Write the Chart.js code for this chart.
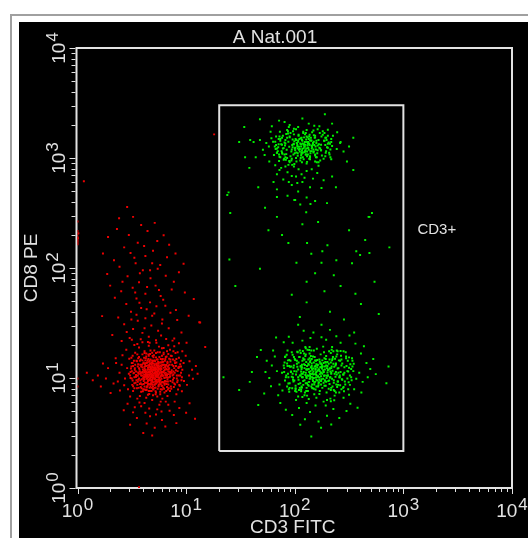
<!DOCTYPE html>
<html>
<head>
<meta charset="utf-8">
<title>A Nat.001</title>
<script src="https://cdn.jsdelivr.net/npm/chart.js@4.4.1/dist/chart.umd.min.js"></script>
<style>
  html, body { margin: 0; padding: 0; background: #fff; width: 528px; height: 538px; overflow: hidden; }
  #frame { position: absolute; left: 10px; top: 14px; width: 540px; height: 540px; border-left: 2px solid #a0a0a0; border-top: 2px solid #a0a0a0; }
  #panel { position: absolute; left: 19px; top: 22px; right: 0; bottom: 0; background: #000; }
  #plot { position: absolute; left: 0; top: 0; }
</style>
</head>
<body>
<div id="frame"></div>
<div id="panel"></div>
<canvas id="plot" width="528" height="538"></canvas>
<script>
// 4-decade log amplifier, 1024 channels (256 channels per decade)
const decadeChannels = [0, 256, 512, 768, 1024];
const decadeExponents = ["0", "1", "2", "3", "4"];
const minorChannels = [77, 122, 154, 179, 199, 216, 231, 244];

const plotTitle = "A Nat.001";
const xTitle = "CD3 FITC";
const yTitle = "CD8 PE";
const gateName = "CD3+";
const gateX = [334, 768];
const gateY = [86, 891];

// CD3- events (red), [FITC channel, PE channel]
const negCore = [
  [182,268],[175,259],[190,272],[168,281],[201,262],[176,247],[159,270],[187,289],[195,251],[171,264],
  [184,277],[163,255],[207,281],[178,236],[152,262],[193,266],[169,294],[213,257],[186,243],[174,272],
  [160,284],[198,276],[181,253],[147,271],[205,240],[166,241],[189,299],[222,268],[177,282],[156,249],
  [200,293],[172,258],[191,238],[143,288],[215,276],[183,262],[164,268],[208,305],[179,229],[196,259],
  [154,276],[187,271],[170,233],[226,284],[161,302],[185,250],[198,283],[149,244],[176,291],[211,265],
  [167,276],[194,245],[138,263],[180,309],[219,249],[173,251],[202,270],[158,236],[188,280],[229,296],
  [145,255],[184,225],[171,283],[209,248],[162,291],[196,300],[135,279],[178,257],[217,287],[190,262],
  [153,297],[205,257],[168,226],[183,295],[141,240],[224,262],[175,274],[199,229],[157,264],[212,294],
  [186,286],[165,245],[232,274],[150,283],[193,254],[171,312],[204,287],[139,251],[181,241],[220,236],
  [160,259],[197,292],[176,265],[128,272],[214,271],[189,231],[155,230],[207,263],[172,299],[236,250],
  [148,266],[185,304],[201,247],[166,285],[130,291],[192,277],[178,216],[225,299],[159,273],[210,242],
  [143,302],[187,259],[169,262],[203,315],[151,253],[240,282],[182,288],[163,228],[197,268],[134,244],
  [218,260],[175,243],[156,292],[191,285],[146,276],[228,243],[170,269],[206,296],[184,234],[121,266],
  [162,306],[199,238],[177,295],[213,282],[152,241],[189,316],[137,259],[222,274],[168,252],[195,224],
  [181,276],[158,282],[234,262],[174,226],[204,273],[144,233],[186,263],[127,283],[216,301],[165,297],
  [193,250],[150,268],[209,286],[179,304],[140,295],[227,256],[171,241],[199,308],[157,258],[244,268],
  [183,281],[133,268],[202,234],[167,311],[219,266],[154,225],[190,293],[175,233],[230,291],[148,287],
  [196,279],[161,263],[212,253],[125,256],[185,222],[171,289],[238,279],[143,269],[206,243],[180,296],
  [164,236],[220,308],[149,299],[192,241],[131,237],[209,277],[173,277],[246,258],[158,314],[187,248],
  [117,279],[201,287],[176,252],[226,271],[142,247],[194,316],[166,259],[215,232],[155,290],[183,267],
  [112,255],[250,291],[136,315],[263,262],[104,287],[218,322],[147,214],[241,238],[122,301],[203,326],
  [99,268],[255,308],[131,226],[236,316],[168,331],[270,275],[110,239],[192,329],[145,327],[251,249],
  [119,230],[228,330],[162,210],[264,295],[95,248],[212,214],[134,333],[246,225],[176,205],[106,309],
  [279,284],[153,339],[200,208],[124,213],[258,240],[186,338],[91,291],[233,218],[141,208],[272,254],
  [115,322],[224,343],[166,340],[100,227],[247,318],[196,201],[128,345],[283,266],[158,198],[239,337],
  [150,190],[188,183],[131,176],[214,194],[171,167],[240,186],[118,196],[199,158],[163,150],[227,170],
  [140,163],[182,140],[256,175],[109,181],[207,143],[155,128],[233,151],[176,122],[124,147],[264,197],
  [193,194],[169,185],[146,199],[217,180],[185,171],[208,201],[160,175],[135,188],[229,201],[198,178],
  [48,262],[72,279],[36,251],[85,243],[60,290],[22,268],[78,221],[90,302],[55,236],[67,255]
];
const negDense = [
  [178,262],[185,270],[172,268],[190,258],[181,279],[167,257],[195,273],[176,251],[188,284],[170,276],
  [183,255],[199,265],[164,263],[179,290],[192,248],[173,244],[186,262],[160,275],[203,280],[177,270],
  [169,286],[194,292],[182,240],[157,260],[208,268],[175,279],[187,276],[166,249],[198,254],[180,258],
  [171,255],[190,281],[162,284],[184,266],[205,256],[174,292],[193,269],[159,245],[179,246],[200,287],
  [168,270],[186,252],[176,283],[211,276],[163,271],[182,297],[196,242],[154,268],[189,266],[172,236],
  [180,274],[165,292],[201,261],[175,261],[191,289],[158,253],[184,280],[206,249],[170,261],[187,299],
  [161,266],[197,277],[178,231],[193,257],[166,280],[214,285],[183,248],[153,281],[174,266],[190,274],
  [168,242],[202,294],[181,285],[159,289],[195,250],[177,256],[211,262],[164,254],[186,290],[172,281],
  [199,270],[156,273],[183,273],[170,296],[207,283],[176,240],[191,263],[162,259],[188,246],[179,280],
  [150,262],[196,285],[173,250],[185,259],[217,270],[167,265],[182,233],[194,278],[160,297],[178,275],
  [203,245],[171,272],[187,268],[155,254],[199,299],[175,287],[190,252],[165,275],[209,258],[180,266],
  [169,251],[193,283],[184,243],[158,278],[176,297],[212,291],[163,245],[189,271],[174,258],[197,262]
];
const negMid = [
  [130,250],[238,281],[145,305],[221,231],[126,278],[242,262],[150,224],[214,312],[133,296],[230,241],
  [158,318],[205,222],[124,262],[244,296],[140,232],[226,318],[166,217],[199,325],[136,287],[234,255],
  [153,311],[218,226],[129,240],[247,275],[147,296],[210,306],[161,228],[233,300],[138,271],[225,252],
  [172,320],[195,218],[127,303],[240,240],[156,242],[219,294],[143,252],[211,235],[168,308],[229,268],
  [134,258],[203,311],[152,287],[237,229],[163,234],[216,279],[131,284],[245,251],[149,235],[207,300],
  [176,315],[188,213],[141,311],[223,287],[158,229],[231,314],[137,245],[213,248],[167,300],[242,288],
  [128,291],[198,238],[155,257],[222,307],[145,279],[209,226],[170,226],[236,272],[132,267],[217,258],
  [181,320],[193,305],[139,296],[227,235],[162,313],[204,231],[148,250],[239,303],[134,232],[220,270],
  [157,303],[211,318],[144,266],[232,284],[169,219],[201,300],[125,270],[226,264],[151,232],[214,241],
  [185,314],[196,230],[142,283],[219,299],[165,237],[235,246],[130,308],[208,285],[174,226],[244,283],
  [138,259],[205,267],[160,289],[228,279],[147,242],[215,265],[177,307],[191,236],[135,275],[224,246],
  [153,270],[206,275],[164,292],[238,262],[142,261],[213,229],[184,218],[199,246],[128,255],[233,292]
];
const negPlume = [
  [117,654],[72,584],[131,631],[150,612],[93,603],[165,598],[188,575],[110,560],[142,571],[203,588],
  [125,547],[160,540],[86,530],[178,552],[211,537],[137,523],[99,515],[154,507],[195,519],[231,546],
  [70,498],[118,493],[172,488],[145,479],[208,494],[239,502],[130,466],[184,471],[103,458],[160,452],
  [222,462],[88,443],[139,441],[196,447],[253,455],[115,428],[171,432],[150,419],[207,424],[126,410],
  [181,406],[232,414],[96,397],[160,395],[142,389],[200,392],[262,401],[110,381],[174,378],[215,372],
  [131,370],[190,366],[153,361],[245,362],[82,356],[168,352],[123,349],[209,347],[139,403],[186,423],
  [164,468],[202,438],[106,480],[147,500],[189,510],[227,480],[134,536],[176,523],[157,563],[121,589],
  [182,617],[98,628],[216,566],[60,546],[250,522],[77,471],[274,440],[58,400],[289,385],[235,391],
  [149,346],[197,355],[116,363],[228,348],[170,338],[104,342],[257,338],[141,335],[185,344],[214,332],
  [158,372],[127,392],[199,383],[176,401],[146,431],[219,408],[163,416],[136,455],[192,461],[171,507]
];
const negEdge = [
  [0,620],[0,598],[0,590],[0,584],[0,579],[0,575],[0,571],[0,567],[2,593],[1,581],
  [0,236],[0,255],[15,714],[322,823],[145,2],[301,328],[277,161],[287,386]
];

// CD3+ events (green)
const posCd8Low = [
  [562,268],[548,255],[575,281],[539,276],[590,262],[553,241],[528,266],[571,294],[584,249],[545,287],
  [566,259],[521,252],[598,279],[557,231],[535,299],[580,270],[511,272],[604,245],[559,283],[542,262],
  [589,293],[526,284],[569,246],[615,268],[550,307],[532,240],[595,257],[517,296],[577,233],[561,275],
  [505,259],[609,290],[543,226],[582,302],[529,258],[623,253],[556,264],[514,238],[597,314],[570,257],
  [538,311],[601,236],[552,290],[587,222],[520,276],[629,281],[565,298],[499,284],[574,268],[546,247],
  [611,264],[533,270],[581,316],[509,248],[594,242],[557,320],[540,233],[637,296],[523,305],[568,239],
  [586,285],[515,264],[602,305],[549,272],[496,297],[619,239],[535,251],[573,311],[558,218],[590,274],
  [503,271],[627,264],[544,299],[579,254],[527,229],[612,311],[563,252],[491,258],[598,268],[552,279],
  [534,288],[645,277],[571,226],[518,317],[605,282],[541,215],[584,293],[510,285],[630,248],[555,306],
  [592,231],[525,244],[576,283],[487,279],[616,297],[548,262],[564,324],[537,307],[600,254],[513,226],
  [642,262],[558,245],[529,281],[581,261],[497,243],[620,319],[546,321],[594,299],[568,276],[507,310],
  [651,289],[539,259],[585,238],[521,292],[609,270],[553,233],[482,268],[633,306],[566,287],[545,238],
  [599,322],[516,271],[574,249],[626,233],[531,319],[588,261],[560,297],[494,290],[614,248],[542,276],
  [579,329],[508,257],[638,271],[554,253],[524,233],[603,289],[570,219],[489,305],[595,278],[547,313],
  [617,258],[530,296],[563,236],[657,254],[512,300],[586,307],[541,244],[606,226],[552,265],[574,290],
  [500,233],[622,285],[537,328],[591,249],[518,282],[647,302],[561,229],[583,276],[526,262],[610,241],
  [470,272],[664,268],[495,320],[681,291],[476,241],[652,230],[507,338],[620,338],[458,285],[668,313],
  [483,227],[640,217],[530,343],[586,345],[465,306],[672,247],[549,349],[610,353],[452,256],[690,277],
  [515,205],[597,202],[473,216],[655,336],[540,198],[575,351],[498,352],[627,210],[446,296],[684,258],
  [561,192],[522,186],[603,184],[478,198],[643,196],[548,177],[588,168],[506,170],[634,179],[568,155],
  [536,160],[617,163],[491,182],[574,140],[551,120],[598,148],[525,147],[660,187],[585,192],[545,207],
  [605,204],[563,210],[520,213],[580,201],[628,225],[499,224],[556,362],[595,368],[533,366],[641,355],
  [486,339],[675,330],[461,320],[697,300],[443,270],[703,265],[456,237],[669,222],[468,350],[652,362],
  [344,258],[381,228],[426,193],[411,270],[423,305],[406,247],[440,220],[432,321],[733,283],[728,244]
];
const posCd8LowDense = [
  [560,265],[571,272],[549,259],[583,262],[556,278],[538,268],[575,253],[563,288],[591,275],[545,247],
  [567,260],[552,284],[580,291],[541,276],[596,258],[558,241],[572,281],[531,258],[586,247],[563,270],
  [548,293],[577,266],[599,283],[536,286],[565,250],[554,267],[589,269],[527,271],[570,299],[582,238],
  [544,261],[561,278],[597,292],[551,236],[576,287],[532,249],[568,244],[588,279],[547,302],[606,266],
  [557,256],[579,274],[539,293],[593,250],[562,296],[524,262],[574,260],[553,275],[585,300],[543,240],
  [601,273],[566,286],[535,279],[580,245],[555,249],[571,265],[529,287],[592,289],[559,305],[546,270],
  [613,278],[562,257],[577,297],[540,256],[587,256],[550,281],[604,251],[569,276],[533,299],[583,283],
  [554,232],[598,266],[544,289],[574,241],[528,277],[565,281],[590,262],[557,292],[547,254],[580,270],
  [609,288],[537,263],[570,252],[560,247],[585,292],[548,266],[594,278],[552,300],[576,278],[541,284],
  [618,262],[563,263],[531,266],[583,251],[572,290],[556,271],[600,297],[545,277],[567,236],[589,284],
  [538,244],[578,283],[553,258],[596,271],[561,284],[526,282],[573,269],[549,297],[608,259],[566,273]
];
const posCd8LowMid = [
  [492,262],[640,280],[510,305],[622,230],[486,285],[645,258],[516,224],[613,318],[499,298],[631,241],
  [524,320],[606,215],[489,250],[648,296],[506,232],[627,318],[530,212],[600,328],[501,282],[636,255],
  [519,316],[617,222],[494,236],[650,272],[513,298],[610,306],[527,225],[633,302],[503,270],[624,252],
  [538,325],[596,208],[490,306],[642,240],[521,242],[619,296],[508,252],[612,235],[534,313],[629,268],
  [497,258],[603,318],[517,289],[638,230],[528,236],[615,279],[495,284],[646,251],[514,230],[607,301],
  [542,322],[588,205],[505,316],[624,290],[522,228],[632,316],[500,244],[613,248],[532,302],[643,288],
  [488,292],[598,233],[520,258],[621,308],[509,280],[609,222],[536,222],[636,272],[496,266],[618,258],
  [547,328],[593,318],[502,296],[627,235],[526,314],[604,228],[511,250],[640,304],[498,230],[620,270],
  [523,305],[611,320],[507,266],[634,284],[535,216],[601,300],[487,270],[626,264],[514,232],[614,240],
  [551,320],[597,228],[504,283],[622,299],[529,234],[639,246],[493,310],[608,285],[539,226],[648,283]
];
const posCd8High = [
  [518,795],[505,788],[531,802],[497,806],[543,791],[512,779],[489,797],[526,814],[538,776],[509,801],
  [522,787],[481,784],[551,809],[515,768],[494,815],[535,795],[474,800],[557,783],[520,809],[502,772],
  [546,818],[486,791],[528,780],[566,797],[510,823],[492,777],[549,784],[478,812],[533,765],[517,803],
  [467,789],[560,816],[499,761],[538,826],[488,804],[574,786],[513,792],[476,771],[553,828],[527,774],
  [496,825],[562,770],[507,811],[541,759],[482,799],[581,808],[521,822],[461,806],[530,789],[504,783],
  [569,800],[491,764],[540,833],[470,780],[548,772],[515,835],[499,794],[588,793],[484,820],[525,762],
  [544,805],[473,793],[557,821],[506,798],[457,814],[576,774],[493,787],[532,829],[511,754],[552,796],
  [463,775],[584,815],[500,818],[536,783],[487,766],[571,826],[519,779],[451,795],[556,788],[508,830],
  [490,810],[595,801],[529,758],[477,829],[563,808],[497,752],[542,816],[468,818],[585,780],[514,812],
  [548,765],[483,778],[534,800],[445,803],[572,790],[505,766],[520,840],[494,833],[560,776],[475,761],
  [437,787],[602,820],[455,829],[611,789],[466,751],[590,834],[500,845],[545,848],[430,810],[620,805],
  [480,745],[568,750],[521,742],[452,760],[598,765],[441,775],[627,783],[488,852],[558,843],[510,748],
  [495,735],[540,738],[470,730],[565,733],[515,725],[485,718],[530,712],[555,720],[505,705],[548,700],
  [462,712],[580,716],[520,690],[575,698],[495,680],[540,676],[470,695],[600,725],[525,660],[560,668],
  [420,770],[415,805],[640,795],[635,760],[458,842],[600,848],[530,860],[475,855],[405,745],[650,815],
  [505,726],[528,730],[490,748],[552,742],[518,710],[540,755],[476,740],[564,758],[498,712],[535,722],
  [353,682],[381,805],[407,810],[360,640],[442,652],[470,677],[511,670],[549,661],[588,663],[612,828],
  [619,803],[688,631],[470,631],[393,840],[430,858],[583,870],[426,700],[609,700],[395,770],[650,740]
];
const posCd8HighDense = [
  [535,795],[546,801],[524,789],[552,790],[530,808],[541,783],[518,798],[557,806],[528,777],[545,812],
  [537,786],[520,806],[561,795],[533,799],[549,779],[512,790],[540,818],[527,795],[566,786],[523,812],
  [554,799],[531,770],[544,792],[516,781],[559,815],[536,805],[548,770],[510,800],[538,776],[563,803],
  [525,802],[551,808],[542,797],[519,773],[534,816],[570,792],[529,785],[547,822],[515,810],[556,781],
  [539,790],[522,794],[560,774],[532,826],[545,787],[507,793],[553,793],[526,768],[541,805],[568,810],
  [535,782],[517,803],[550,815],[529,810],[562,788],[543,776],[513,786],[547,798],[521,820],[539,811],
  [558,798],[533,791],[546,766],[511,807],[565,779],[527,800],[552,784],[536,823],[519,790],[541,772],
  [555,803],[531,780],[548,809],[574,799],[524,783],[543,801],[509,776],[560,820],[537,799],[528,815]
];
const posCd8HighMid = [
  [470,790],[590,801],[482,815],[584,772],[466,806],[596,788],[490,770],[578,822],[475,776],[587,810],
  [496,830],[572,762],[468,798],[600,796],[486,764],[582,826],[500,758],[566,835],[478,808],[593,780],
  [492,824],[580,766],[472,784],[598,812],[488,776],[575,818],[504,762],[590,792],[480,800],[586,784],
  [510,836],[568,758],[476,818],[592,804],[494,768],[578,830],[484,790],[596,770],[502,826],[584,798],
  [465,795],[574,786],[498,840],[560,760],[482,780],[590,820],[506,752],[570,842],[474,812],[582,808],
  [516,760],[556,832],[490,802],[594,776],[478,770],[586,815],[500,816],[564,770],[470,780],[598,805]
];
const posBetween = [
  [513,670],[539,642],[567,619],[686,631],[530,614],[482,589],[541,570],[589,565],
  [678,577],[657,551],[577,551],[551,545],[516,524],[575,524],[688,547],[666,542],[540,480],[582,458],
  [655,452],[668,428],[628,392],[524,398],[647,523],[694,640],[356,688],[358,532],[372,470],[430,510],
  [604,495],[540,432],[620,470],[595,410],[505,450],[700,480],[710,405],[575,380],[640,600],[610,530],
  [497,570],[560,500],[450,600],[735,560],[520,380]
];

const ink = "#e2e2e2";
const font = "'Liberation Sans', Arial, sans-serif";

function powerLabel(ctx, exp, cx, baseline) {
  ctx.font = "19px " + font;
  const wBase = ctx.measureText("10").width;
  ctx.font = "17px " + font;
  const wExp = ctx.measureText(exp).width;
  const start = cx - (wBase + wExp + 1) / 2;
  ctx.textAlign = "left";
  ctx.textBaseline = "alphabetic";
  ctx.font = "19px " + font;
  ctx.fillText("10", start, baseline);
  ctx.font = "17px " + font;
  ctx.fillText(exp, start + wBase + 1, baseline - 7);
}

const facsAxes = {
  id: "facsAxes",
  beforeDatasetsDraw(chart) {
    const { ctx, chartArea: a, scales: { x, y } } = chart;
    ctx.save();
    ctx.strokeStyle = ink;
    ctx.lineWidth = 2;
    ctx.strokeRect(a.left - 1, a.top, a.right - a.left + 1, a.bottom - a.top);

    ctx.lineWidth = 1;
    ctx.beginPath();
    decadeChannels.forEach((d, i) => {
      const marks = [[d, 6]];
      if (i < decadeChannels.length - 1) minorChannels.forEach(m => marks.push([d + m, 4]));
      marks.forEach(([ch, len]) => {
        const px = Math.round(x.getPixelForValue(ch)) + 0.5;
        ctx.moveTo(px, a.bottom);
        ctx.lineTo(px, a.bottom + len);
        const py = Math.round(y.getPixelForValue(ch)) + 0.5;
        ctx.moveTo(a.left - 2, py);
        ctx.lineTo(a.left - 2 - len, py);
      });
    });
    ctx.stroke();

    ctx.fillStyle = ink;
    decadeChannels.forEach((d, i) => {
      powerLabel(ctx, decadeExponents[i], x.getPixelForValue(d), a.bottom + 29);
      ctx.save();
      ctx.translate(a.left - 13, y.getPixelForValue(d));
      ctx.rotate(-Math.PI / 2);
      powerLabel(ctx, decadeExponents[i], 0, 0);
      ctx.restore();
    });
    ctx.restore();
  },
  afterDraw(chart) {
    const { ctx, chartArea: a, scales: { x, y } } = chart;
    ctx.save();
    ctx.fillStyle = ink;
    ctx.font = "19px " + font;
    ctx.textAlign = "center";
    ctx.fillText(plotTitle, 275, a.top - 5);
    ctx.fillText(xTitle, (a.left + a.right) / 2 - 2, a.bottom + 45);
    ctx.save();
    ctx.translate(37, (a.top + a.bottom) / 2);
    ctx.rotate(-Math.PI / 2);
    ctx.fillText(yTitle, 0, 0);
    ctx.restore();
    ctx.font = "15px " + font;
    ctx.textAlign = "left";
    ctx.fillText(gateName, x.getPixelForValue(gateX[1]) + 14, y.getPixelForValue(592));
    ctx.restore();
  }
};

const gateOutline = [
  [gateX[0], gateY[0]], [gateX[1], gateY[0]], [gateX[1], gateY[1]], [gateX[0], gateY[1]], [gateX[0], gateY[0]]
];

new Chart(document.getElementById("plot"), {
  type: "scatter",
  data: {
    datasets: [
      { label: "CD3-", data: [...negCore, ...negMid, ...negDense, ...negPlume, ...negEdge],
        backgroundColor: "#ee0000" },
      { label: "CD3+",
        data: [...posCd8Low, ...posCd8LowMid, ...posCd8LowDense, ...posCd8High, ...posCd8HighMid,
               ...posCd8HighDense, ...posBetween],
        backgroundColor: "#00f000" },
      { type: "line", label: "gate", data: gateOutline, borderColor: ink, borderWidth: 2,
        pointRadius: 0, tension: 0, fill: false }
    ]
  },
  options: {
    responsive: false,
    animation: false,
    devicePixelRatio: 1,
    layout: { padding: { left: 77.5, right: 16, top: 48, bottom: 50 } },
    elements: { point: { pointStyle: "rect", radius: 1.4, borderWidth: 0, hoverRadius: 1.4 } },
    plugins: { legend: { display: false }, tooltip: { enabled: false } },
    scales: {
      x: { type: "linear", min: 0, max: 1024, display: false },
      y: { type: "linear", min: 0, max: 1024, display: false }
    }
  },
  plugins: [facsAxes]
});
</script>
</body>
</html>
